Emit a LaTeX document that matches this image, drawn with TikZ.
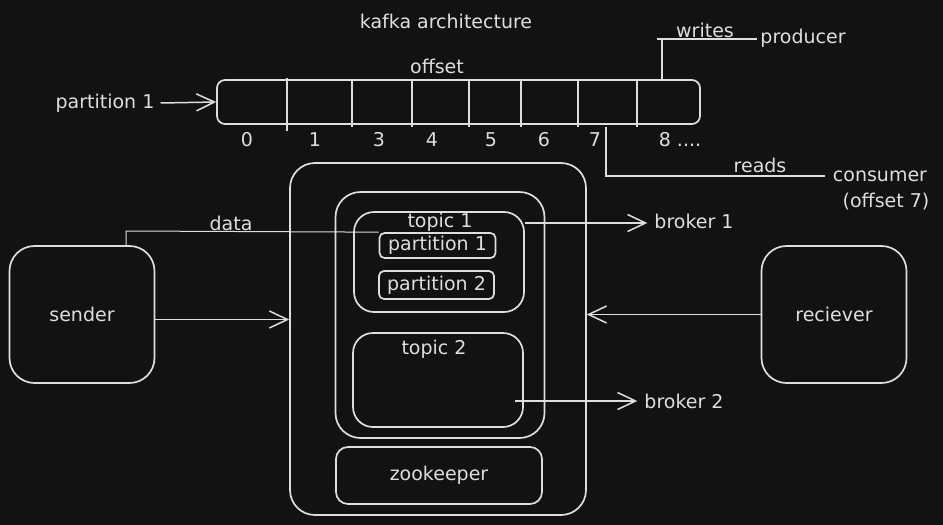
\documentclass[tikz,border=0pt]{standalone}
\usepackage{fontspec}
\setmainfont{DejaVu Sans}
\usetikzlibrary{arrows.meta,calc}
\definecolor{bg}{HTML}{121212}
\definecolor{ink}{HTML}{DEDEDE}
\begin{document}
\begin{tikzpicture}[x=1pt,y=-1pt,
  every node/.style={text=ink,font=\fontsize{19}{21}\selectfont,inner sep=0pt},
  box/.style={draw=ink,line width=1.7pt,rounded corners=#1,fill=none},
  box/.default=25pt,
  ln/.style={draw=ink,line width=1.5pt},
  arr/.style={ln,-{Straight Barb[length=18pt,width=17pt,line width=1.5pt]}},
  lbl/.style={anchor=center}]
\fill[bg] (0,0) rectangle (943,525);
\useasboundingbox (0,0) rectangle (943,525);

% title
\node[lbl] (title) at (446,21) {kafka architecture};
\node[lbl] (offset) at (437,66) {offset};

% partition strip
\node[box=8pt,minimum width=483pt,minimum height=44pt] (strip) at (458.5,102) {};
\foreach \xx in {352,412,469,521,578,637}{
  \draw[ln] (\xx,81) -- (\xx,127);
}
\draw[ln] (287,78) -- (287,131);
\foreach \xx/\tx/\nm in {247/0/n0,315/1/n1,379/3/n3,432/4/n4,491/5/n5,544/6/n6,595/7/n7}{
  \node[lbl] (\nm) at (\xx,140) {\tx};
}
\node[lbl] (n8) at (680,140) {8 ....};

\node[lbl] (plabel) at (105,103) {partition 1};
\draw[arr] ([xshift=6pt]plabel.east) -- (strip.west);

% writes / producer
\node[lbl] (writes) at (705,30) {writes};
\node[lbl] (producer) at (803,38) {producer};
\coordinate (wbot) at (662,80);
\coordinate (wl) at (657,39);
\draw[ln] (wbot) -- (662,39);
\draw[ln] (wl) -- ([xshift=-3pt]producer.west |- wl);

% reads / consumer
\node[lbl] (reads) at (760,165) {reads};
\node[lbl] (consumer) at (880,176) {consumer};
\node[lbl] (offset7) at (886,202) {(offset 7)};
\coordinate (rtop) at (606,127);
\draw[ln] (rtop) |- ([xshift=-8pt]consumer.west);

% broker cluster
\node[box,minimum width=296pt,minimum height=352pt] (outer) at (438,339) {};
\node[box,minimum width=209pt,minimum height=246pt] (middle) at (440,315) {};
\node[box=20pt,minimum width=170pt,minimum height=100pt] (topic1) at (439,262) {};
\node[lbl] (t1) at (440,222) {topic 1};
\node[box=5pt,minimum width=116pt,minimum height=25pt] (p1) at (437.5,245.5) {partition 1};
\node[box=5pt,minimum width=115pt,minimum height=28pt] (p2) at (436.5,285) {partition 2};
\node[box=20pt,minimum width=170pt,minimum height=94pt] (topic2) at (438,380) {};
\node[lbl] (t2) at (434,349) {topic 2};
\node[box=12pt,minimum width=206pt,minimum height=57pt] (zk) at (439,475.5) {zookeeper};

% brokers
\node[lbl] (broker1) at (694,221) {broker 1};
\node[lbl] (broker2) at (684,401) {broker 2};
\draw[arr] ([yshift=39pt]topic1.east) -- ([xshift=-7pt]broker1.west |- 0,223);
\draw[arr] ([shift={(-9pt,-21pt)}]topic2.east) -- ([xshift=-7pt]broker2.west |- 0,401);

% sender / receiver
\node[box,minimum width=145pt,minimum height=137pt] (sender) at (82,314.5) {sender};
\node[box,minimum width=145pt,minimum height=137pt] (receiver) at (834,314.5) {reciever};
\draw[arr] ([yshift=-5pt]sender.east) -- ([yshift=-5pt]sender.east -| outer.west);
\draw[arr] (receiver.west) -- (receiver.west -| outer.east);

% data
\node[lbl] (data) at (231,223) {data};
\coordinate (dbot) at (126,246);
\coordinate (dtop) at (126,231);
\draw[draw=ink,line width=1pt] (dbot) -- (dtop) -- (p1.north west);
\end{tikzpicture}
\end{document}
